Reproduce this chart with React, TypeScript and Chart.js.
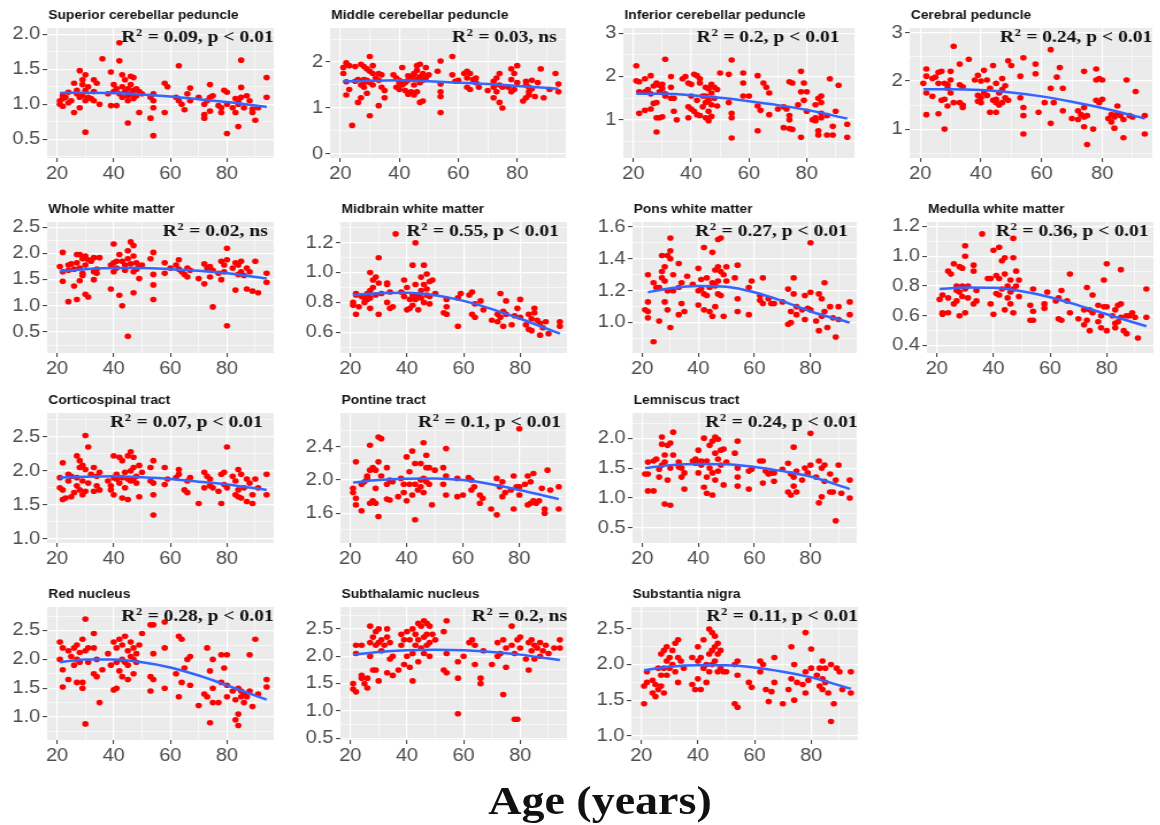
import React, { useEffect, useRef } from "react";
import { Chart, registerables } from "chart.js";
Chart.register(...registerables);

type Pt = [number, number];

// ---------------- data (age, value) ----------------
const superiorCerebellar: Pt[] = [[21,1.05],[21,1.0],[22,1.08],[22,0.97],[22,1.12],[23,1.1],[24,1.17],[24,1.02],[25,1.05],[26,1.3],[26,0.88],[27,1.2],[27,1.15],[28,1.48],[28,1.1],[28,0.95],[29,1.28],[29,1.12],[29,1.35],[30,1.42],[30,1.2],[30,0.6],[30,1.05],[31,1.25],[31,1.1],[32,1.08],[33,1.35],[33,1.18],[33,1.05],[34,1.3],[35,1.0],[36,1.65],[38,1.15],[39,1.46],[39,0.98],[40,1.28],[40,1.18],[41,1.22],[41,0.98],[42,1.88],[42,1.62],[42,1.15],[43,1.42],[43,1.25],[43,1.1],[44,1.35],[44,1.18],[45,1.22],[45,1.12],[45,0.73],[45,1.05],[46,1.4],[46,1.28],[46,1.15],[47,1.38],[47,1.2],[47,1.08],[48,1.22],[48,1.12],[49,1.18],[49,0.88],[50,1.15],[53,0.8],[53,1.1],[54,0.55],[54,0.95],[54,1.05],[54,1.15],[58,1.3],[58,0.88],[59,1.25],[62,1.1],[63,1.55],[63,1.05],[64,1.0],[65,0.92],[66,1.15],[67,1.23],[67,1.05],[70,1.1],[72,0.8],[72,0.85],[72,1.0],[73,1.05],[74,1.1],[74,1.28],[74,0.9],[75,1.12],[77,0.98],[78,0.95],[78,0.88],[79,1.2],[80,1.17],[80,0.58],[80,1.0],[82,0.95],[83,0.88],[83,1.08],[84,1.0],[84,1.05],[84,0.68],[85,1.63],[85,1.24],[85,1.1],[86,0.95],[87,1.12],[88,1.05],[89,0.88],[89,0.93],[90,0.77],[91,0.95],[94,1.38],[94,1.1]];
const middleCerebellar: Pt[] = [[21,1.88],[21,1.75],[22,1.98],[22,1.57],[22,1.28],[23,1.4],[23,1.92],[24,0.62],[25,1.9],[25,1.58],[26,1.12],[26,1.62],[27,1.95],[27,1.5],[27,1.22],[28,1.9],[28,1.55],[28,1.62],[28,1.45],[29,1.85],[29,1.6],[29,1.32],[30,2.12],[30,1.8],[30,0.83],[30,1.55],[31,1.92],[31,1.75],[31,1.5],[32,1.65],[33,1.05],[33,1.75],[33,1.6],[34,1.72],[34,1.45],[35,1.22],[35,1.38],[38,1.72],[39,1.65],[39,1.45],[40,1.55],[40,1.6],[40,1.4],[41,1.88],[41,1.5],[42,1.55],[42,1.38],[43,1.7],[43,1.6],[43,1.3],[44,1.65],[44,1.35],[45,1.75],[45,1.5],[45,1.72],[45,1.28],[46,1.82],[46,1.62],[46,1.92],[46,1.35],[47,1.95],[47,1.68],[47,1.12],[47,1.55],[48,1.75],[48,1.6],[48,1.15],[49,1.88],[49,1.65],[50,1.72],[53,1.8],[54,2.02],[54,1.52],[54,1.35],[54,0.9],[54,1.25],[58,2.12],[58,1.72],[59,1.58],[60,1.6],[62,1.75],[63,1.45],[63,1.8],[63,1.65],[64,1.75],[64,1.4],[65,1.62],[66,1.65],[66,1.55],[67,1.45],[70,1.38],[72,1.58],[72,1.45],[72,1.22],[73,1.65],[73,1.35],[74,1.75],[74,1.5],[74,1.12],[75,1.0],[75,1.45],[77,1.45],[78,1.85],[78,1.62],[78,1.35],[79,1.75],[79,1.4],[80,1.92],[80,1.55],[82,1.15],[83,1.5],[83,1.22],[83,1.58],[84,1.35],[84,1.45],[84,1.28],[85,1.6],[85,1.42],[86,1.25],[87,1.55],[88,1.85],[89,1.22],[91,1.4],[93,1.75],[94,1.52],[94,1.35]];
const inferiorCerebellar: Pt[] = [[21,2.25],[21,1.9],[22,1.65],[22,1.15],[22,1.88],[24,1.95],[24,1.65],[24,1.22],[25,1.7],[26,2.02],[26,1.25],[26,1.6],[27,1.78],[27,1.38],[28,1.85],[28,0.72],[28,1.05],[28,1.4],[29,1.8],[29,1.65],[29,1.05],[30,1.72],[30,1.82],[30,1.07],[31,2.4],[31,1.55],[31,1.6],[33,2.0],[33,1.5],[33,1.75],[34,1.2],[34,1.5],[35,1.0],[37,1.95],[38,2.0],[39,1.85],[39,1.3],[39,1.05],[40,1.82],[40,1.55],[40,1.25],[41,2.05],[41,1.2],[42,2.02],[42,1.45],[42,1.12],[43,1.95],[43,1.85],[43,1.1],[44,1.55],[44,1.3],[45,1.75],[45,1.4],[45,1.05],[45,1.55],[46,1.72],[46,1.45],[46,1.2],[46,0.98],[47,1.82],[47,1.62],[47,1.35],[47,1.08],[48,1.75],[48,1.5],[49,1.7],[49,1.32],[50,2.08],[53,2.05],[53,1.4],[54,2.38],[54,1.15],[54,1.05],[54,0.58],[58,2.08],[58,1.85],[58,1.55],[60,1.55],[63,2.02],[63,1.32],[63,0.75],[64,1.22],[65,1.85],[66,1.75],[67,1.62],[67,1.12],[70,1.25],[72,1.3],[72,0.82],[73,1.25],[74,1.88],[74,1.1],[74,1.0],[74,0.8],[75,1.85],[75,0.78],[77,1.35],[78,2.12],[78,1.65],[78,0.6],[79,1.85],[79,1.45],[80,1.65],[80,1.2],[82,1.0],[83,1.35],[83,1.05],[83,0.98],[84,1.5],[84,0.75],[84,0.65],[85,1.55],[85,1.4],[85,1.05],[85,1.15],[87,1.1],[87,0.65],[88,1.95],[89,0.85],[89,0.65],[90,1.2],[91,1.8],[94,0.9],[94,0.6]];
const cerebralPeduncle: Pt[] = [[21,1.95],[22,2.25],[22,2.1],[22,1.75],[22,1.3],[24,2.05],[24,1.68],[25,2.08],[26,2.18],[26,1.95],[26,1.32],[27,2.2],[27,1.6],[28,1.95],[28,1.62],[28,1.0],[29,1.85],[29,1.92],[29,1.48],[30,2.2],[30,2.02],[30,1.75],[31,2.72],[31,1.55],[33,2.35],[33,1.92],[33,1.55],[34,1.88],[34,1.5],[34,1.45],[36,2.45],[38,2.02],[39,2.12],[39,1.7],[39,1.58],[40,2.0],[40,1.65],[40,1.55],[41,2.22],[41,1.75],[42,2.02],[42,1.7],[43,1.85],[43,1.35],[44,2.32],[44,1.6],[45,1.95],[45,1.55],[45,1.35],[45,1.62],[46,1.75],[46,1.5],[47,2.05],[47,1.82],[47,1.55],[48,1.9],[48,1.65],[49,2.42],[49,1.6],[50,2.32],[53,2.1],[53,1.65],[54,2.48],[54,1.45],[54,1.28],[54,0.9],[58,2.35],[58,2.15],[59,1.35],[61,1.55],[63,2.65],[63,1.85],[63,1.12],[64,1.55],[65,2.08],[66,2.28],[67,1.85],[67,1.38],[70,1.22],[72,1.38],[72,1.2],[73,1.3],[74,2.2],[74,1.45],[74,1.25],[74,1.05],[75,1.28],[75,0.68],[77,1.0],[78,2.25],[78,2.02],[78,1.6],[79,2.05],[79,1.55],[80,2.02],[80,1.62],[82,1.22],[83,1.15],[83,1.3],[84,1.25],[84,1.02],[85,1.48],[85,1.32],[86,1.28],[87,0.82],[87,1.2],[88,2.02],[89,1.28],[90,1.25],[91,1.78],[94,1.28],[94,0.9]];
const wholeWhiteMatter: Pt[] = [[21,1.75],[22,2.02],[22,1.47],[22,1.65],[24,1.08],[24,1.68],[24,1.78],[25,1.8],[26,1.38],[26,1.7],[27,1.98],[27,1.12],[27,1.82],[28,1.98],[28,1.72],[28,1.48],[29,1.9],[29,1.58],[29,1.62],[30,1.95],[30,1.78],[30,1.22],[31,1.88],[31,1.17],[32,1.85],[33,1.92],[33,1.5],[33,1.65],[34,1.7],[34,1.62],[35,1.92],[39,1.78],[39,1.32],[40,2.18],[40,1.82],[40,1.65],[41,1.85],[41,1.72],[42,1.98],[42,1.2],[43,1.85],[43,1.0],[44,1.78],[44,1.68],[45,2.05],[45,1.9],[45,0.42],[46,2.22],[46,1.8],[47,2.15],[47,1.95],[47,1.65],[47,1.25],[48,1.82],[48,1.7],[49,1.75],[49,1.52],[50,1.78],[53,1.9],[54,2.02],[54,1.6],[54,1.4],[54,1.12],[58,1.82],[58,1.62],[60,1.72],[62,1.78],[63,1.88],[63,1.7],[64,1.65],[65,1.6],[66,1.72],[66,1.55],[67,1.68],[70,1.52],[72,1.8],[72,1.42],[73,1.72],[74,1.75],[74,1.55],[75,0.98],[75,1.68],[77,1.62],[78,1.85],[78,1.5],[79,1.78],[79,1.65],[80,2.1],[80,0.62],[80,1.88],[82,1.72],[83,1.82],[83,1.3],[84,1.78],[84,1.6],[85,1.85],[85,1.65],[86,1.58],[87,1.72],[87,1.32],[88,1.65],[89,1.28],[90,1.85],[91,1.25],[94,1.62],[94,1.45]];
const midbrainWhiteMatter: Pt[] = [[21,0.8],[21,0.78],[22,0.72],[22,0.85],[22,0.86],[23,0.77],[24,0.84],[25,0.8],[25,0.83],[26,0.82],[26,0.86],[27,1.0],[27,0.76],[27,0.88],[27,0.83],[28,0.9],[28,0.95],[29,0.97],[29,0.85],[30,1.1],[30,0.93],[30,0.72],[31,0.86],[33,0.93],[33,0.8],[33,0.92],[34,0.76],[34,0.87],[35,0.77],[36,1.26],[38,0.87],[39,0.95],[39,0.84],[40,0.9],[40,0.75],[41,0.82],[41,0.76],[42,1.05],[42,0.85],[42,0.78],[43,1.2],[43,0.92],[43,0.82],[44,0.85],[44,0.75],[45,0.97],[45,0.83],[45,0.88],[46,1.05],[46,0.92],[46,0.8],[47,0.99],[47,0.89],[47,0.85],[48,0.94],[48,0.84],[48,0.79],[49,0.95],[50,0.86],[53,0.73],[54,0.82],[54,0.77],[54,0.72],[58,0.64],[58,0.83],[59,0.86],[62,0.85],[63,0.87],[63,0.72],[64,0.79],[64,0.7],[66,0.81],[67,0.75],[70,0.68],[72,0.67],[72,0.72],[73,0.86],[73,0.7],[74,0.74],[74,0.64],[75,0.72],[75,0.81],[77,0.65],[78,0.71],[79,0.76],[80,0.82],[80,0.7],[82,0.65],[83,0.72],[83,0.62],[84,0.69],[84,0.61],[85,0.76],[85,0.73],[86,0.68],[87,0.58],[87,0.66],[88,0.63],[89,0.67],[90,0.59],[94,0.67],[94,0.64]];
const ponsWhiteMatter: Pt[] = [[21,1.08],[22,1.3],[22,1.13],[22,1.07],[22,1.03],[24,0.88],[24,1.25],[25,1.22],[26,1.01],[26,1.22],[27,1.32],[27,1.42],[27,1.28],[28,1.35],[28,1.13],[28,1.26],[29,1.42],[29,1.2],[29,1.08],[30,1.53],[30,1.45],[30,1.4],[30,0.97],[31,1.3],[31,1.2],[33,1.37],[33,1.22],[33,1.05],[34,1.25],[34,1.12],[35,1.07],[36,1.29],[38,1.24],[40,1.34],[40,1.2],[40,1.11],[41,1.27],[41,1.21],[42,1.47],[42,1.18],[42,1.08],[43,1.28],[43,1.17],[44,1.22],[44,1.07],[45,1.44],[45,1.25],[45,1.04],[46,1.33],[46,1.23],[46,1.1],[47,1.52],[47,1.35],[47,1.26],[47,1.18],[48,1.53],[48,1.32],[48,1.17],[49,1.3],[49,1.04],[50,1.35],[50,1.26],[53,1.28],[54,1.36],[54,1.15],[54,1.07],[58,1.05],[58,1.22],[59,1.26],[62,1.17],[62,1.14],[63,1.28],[63,1.12],[65,1.15],[66,1.12],[67,1.12],[70,1.13],[72,1.21],[72,0.99],[73,1.07],[73,1.0],[74,1.28],[74,1.18],[75,1.1],[75,1.05],[77,1.08],[78,1.17],[78,1.02],[79,1.09],[80,1.5],[80,1.19],[80,1.08],[82,1.01],[83,1.18],[83,0.95],[84,1.15],[84,1.04],[85,1.25],[85,1.07],[86,0.97],[87,1.1],[88,1.03],[89,0.91],[90,1.1],[90,1.02],[94,1.13],[94,1.05]];
const medullaWhiteMatter: Pt[] = [[21,0.71],[22,0.74],[22,0.62],[22,0.61],[24,0.9],[24,0.72],[24,0.62],[25,0.88],[26,0.95],[26,0.68],[27,0.8],[27,0.77],[27,0.7],[28,0.93],[28,0.76],[28,0.6],[29,0.92],[29,0.8],[29,0.73],[30,1.07],[30,1.0],[30,0.78],[30,0.62],[31,0.8],[31,0.72],[33,0.94],[33,0.9],[33,0.68],[34,0.7],[34,0.77],[36,1.15],[38,0.85],[39,0.68],[39,0.85],[40,1.04],[40,0.61],[41,0.87],[41,0.75],[42,1.06],[42,0.85],[42,0.74],[43,0.97],[43,0.78],[44,0.99],[44,0.88],[44,0.64],[45,0.8],[45,0.72],[46,0.84],[46,0.76],[46,0.68],[47,1.12],[47,0.99],[47,0.78],[47,0.62],[48,0.9],[48,0.8],[49,0.84],[49,0.73],[53,0.67],[53,0.57],[54,0.78],[54,0.63],[54,0.57],[58,0.68],[58,0.65],[59,0.76],[62,0.7],[63,0.72],[63,0.58],[64,0.77],[64,0.57],[66,0.7],[67,0.88],[67,0.62],[70,0.58],[72,0.64],[72,0.54],[73,0.79],[73,0.57],[74,0.64],[74,0.5],[75,0.74],[75,0.62],[77,0.67],[77,0.56],[78,0.52],[78,0.6],[79,0.84],[79,0.66],[80,0.95],[80,0.66],[80,0.5],[82,0.6],[83,0.64],[83,0.55],[83,0.52],[84,0.67],[84,0.56],[85,0.91],[85,0.68],[85,0.59],[86,0.5],[87,0.48],[87,0.6],[88,0.6],[89,0.62],[90,0.59],[91,0.45],[94,0.78],[94,0.59]];
const corticospinalTract: Pt[] = [[21,1.9],[21,1.75],[22,2.12],[22,1.72],[22,1.58],[23,1.6],[24,1.95],[24,1.85],[25,1.62],[25,1.92],[26,1.68],[27,2.22],[27,1.9],[27,1.78],[28,2.15],[28,2.05],[28,1.72],[29,2.08],[29,1.85],[29,1.65],[30,2.52],[30,2.02],[30,1.7],[31,2.35],[31,1.82],[32,1.95],[33,2.05],[33,1.7],[34,1.92],[34,1.78],[35,1.98],[35,1.72],[38,1.85],[39,1.72],[39,1.78],[40,2.22],[40,1.9],[40,1.65],[41,1.95],[41,1.88],[42,2.2],[42,1.82],[43,2.15],[43,1.6],[43,1.9],[44,1.98],[44,1.75],[45,2.22],[45,1.88],[45,1.58],[46,2.28],[46,2.0],[46,1.85],[47,2.2],[47,2.05],[47,1.88],[48,1.92],[48,1.82],[49,2.08],[49,1.62],[50,1.98],[53,2.05],[53,1.85],[54,2.15],[54,1.82],[54,1.65],[54,1.35],[58,2.05],[58,1.8],[59,1.88],[62,1.9],[63,2.02],[63,1.95],[65,1.72],[66,1.68],[66,1.85],[67,1.9],[70,1.52],[72,1.98],[72,1.75],[73,1.92],[74,1.88],[74,1.78],[75,1.75],[77,1.7],[78,1.95],[78,1.52],[79,1.98],[79,1.8],[80,2.35],[80,1.75],[82,1.92],[83,1.65],[83,1.85],[84,2.02],[84,1.72],[84,1.62],[85,1.95],[85,1.6],[86,1.75],[87,1.88],[87,1.55],[88,1.82],[89,1.52],[89,1.65],[90,1.88],[91,1.75],[94,1.95],[94,1.65]];
const pontineTract: Pt[] = [[21,1.9],[21,1.85],[22,2.22],[22,1.78],[22,1.7],[24,1.95],[24,1.63],[25,1.98],[26,2.05],[26,2.02],[27,2.42],[27,2.12],[27,1.72],[28,2.15],[28,1.75],[29,2.12],[29,1.9],[29,1.72],[30,2.52],[30,2.22],[30,1.56],[31,2.5],[31,2.05],[33,2.15],[33,1.95],[33,1.77],[34,2.0],[34,1.76],[35,1.98],[37,1.8],[38,2.02],[39,1.95],[39,1.85],[40,2.28],[40,1.75],[41,2.1],[41,1.95],[42,2.35],[42,1.82],[43,2.2],[43,1.95],[43,1.52],[44,1.88],[45,2.2],[45,2.0],[45,1.92],[46,2.45],[46,2.02],[46,1.85],[47,2.3],[47,2.15],[47,1.98],[48,2.15],[48,1.95],[49,1.7],[50,2.12],[53,2.15],[53,1.95],[54,2.38],[54,2.05],[54,1.82],[58,2.02],[58,1.8],[60,1.82],[62,2.03],[63,2.0],[63,1.88],[64,1.92],[66,1.82],[66,1.72],[67,1.78],[70,1.65],[72,2.02],[72,1.58],[73,1.92],[74,1.98],[74,1.8],[75,1.85],[77,1.88],[78,2.05],[78,1.65],[79,1.92],[80,2.62],[80,1.92],[80,1.82],[82,1.95],[83,2.05],[83,1.7],[84,1.98],[84,1.72],[85,2.08],[85,1.75],[86,1.72],[87,1.75],[88,1.9],[89,1.65],[89,1.6],[90,2.12],[91,1.88],[94,1.92],[94,1.65]];
const lemniscusTract: Pt[] = [[21,1.4],[22,1.4],[22,1.12],[22,1.6],[24,1.62],[24,1.12],[25,1.65],[26,1.48],[26,1.35],[27,2.02],[27,1.9],[27,1.55],[28,1.72],[28,0.9],[28,1.6],[29,1.88],[29,1.3],[30,1.92],[30,0.88],[30,1.5],[31,2.1],[31,1.72],[33,1.6],[33,1.52],[34,1.5],[34,1.35],[35,1.15],[35,1.42],[38,1.62],[39,1.65],[39,1.58],[40,1.8],[40,1.42],[41,1.62],[41,1.55],[42,2.0],[42,1.18],[43,1.62],[43,1.35],[43,1.08],[44,1.88],[44,1.5],[45,1.95],[45,1.42],[45,1.05],[46,2.02],[46,1.75],[46,1.3],[47,1.98],[47,1.65],[47,1.45],[48,1.8],[48,1.55],[49,1.82],[49,1.22],[50,1.6],[53,1.75],[54,1.95],[54,1.5],[54,1.35],[54,1.2],[58,1.45],[58,1.15],[59,1.48],[62,1.62],[63,1.62],[63,1.25],[64,1.45],[65,1.4],[66,1.42],[67,1.42],[67,1.28],[70,1.48],[72,1.58],[72,1.1],[73,1.05],[73,1.4],[74,1.85],[74,1.35],[74,1.2],[75,1.45],[75,1.1],[77,1.3],[78,1.5],[79,1.42],[80,2.08],[80,1.55],[82,1.35],[83,1.62],[83,0.92],[84,1.5],[84,1.02],[85,1.55],[85,1.28],[87,1.4],[87,1.1],[88,1.1],[89,0.62],[89,1.3],[90,1.55],[91,1.08],[94,1.3],[94,1.0]];
const redNucleus: Pt[] = [[21,2.0],[21,2.3],[22,1.82],[22,1.52],[22,2.2],[24,2.15],[24,1.65],[25,2.05],[26,2.2],[26,1.9],[27,2.25],[27,2.0],[27,1.6],[28,2.12],[28,1.95],[29,2.35],[29,1.6],[29,1.5],[30,2.7],[30,2.15],[30,0.88],[31,2.2],[31,1.95],[33,2.45],[33,2.2],[33,1.75],[34,2.0],[34,1.7],[35,1.25],[36,1.82],[38,2.1],[39,1.9],[40,2.3],[40,1.47],[41,2.2],[41,1.5],[41,1.95],[42,2.35],[42,1.8],[43,2.25],[43,2.0],[43,1.7],[44,2.4],[44,1.95],[45,2.15],[45,1.65],[45,1.9],[46,2.3],[46,2.05],[47,2.2],[47,1.75],[47,2.0],[48,2.1],[48,1.95],[49,2.25],[50,2.45],[53,2.6],[53,1.7],[53,1.45],[54,2.6],[54,2.1],[54,1.65],[58,2.65],[58,2.2],[58,1.5],[62,1.75],[63,2.4],[63,1.35],[64,2.35],[64,1.6],[65,1.85],[66,2.0],[67,2.05],[67,1.55],[70,1.2],[72,1.4],[73,2.2],[73,1.35],[74,1.8],[74,0.9],[75,2.0],[75,1.5],[75,1.25],[77,1.25],[78,2.08],[78,1.6],[79,1.85],[80,2.08],[80,1.35],[80,1.55],[82,1.45],[83,0.95],[83,1.3],[84,1.5],[84,1.05],[84,0.85],[85,1.45],[85,1.35],[86,1.4],[86,1.25],[87,1.35],[88,2.08],[88,1.45],[89,1.18],[90,2.35],[91,1.4],[94,1.65],[94,1.52]];
const subthalamicNucleus: Pt[] = [[21,1.5],[21,1.4],[22,2.05],[22,1.35],[22,2.2],[24,1.6],[24,1.65],[24,2.2],[25,1.5],[26,1.6],[26,1.42],[27,2.55],[27,2.25],[27,2.0],[28,2.35],[28,1.75],[29,2.45],[29,2.2],[29,1.75],[30,2.5],[30,2.25],[30,1.55],[31,2.3],[31,2.1],[32,2.2],[33,2.5],[33,2.35],[33,1.7],[34,2.25],[34,1.95],[35,2.0],[35,1.65],[37,1.75],[38,2.4],[38,2.2],[39,2.3],[39,1.85],[40,2.45],[40,2.0],[41,2.3],[41,1.8],[42,2.5],[42,2.05],[42,1.55],[43,2.4],[43,2.2],[44,2.6],[44,2.3],[44,1.9],[45,2.55],[45,2.15],[46,2.65],[46,2.35],[46,2.05],[47,2.6],[47,2.4],[47,2.2],[48,2.55],[48,2.25],[48,2.0],[49,2.4],[50,2.3],[53,2.45],[53,1.75],[54,2.65],[54,2.05],[54,1.7],[58,1.9],[58,0.95],[58,1.6],[60,2.0],[62,2.25],[63,2.3],[64,2.2],[64,1.85],[66,1.6],[66,1.5],[67,2.1],[70,1.85],[72,2.25],[72,2.0],[73,2.05],[74,2.3],[74,1.3],[75,2.15],[75,1.8],[77,2.55],[77,2.2],[78,0.85],[78,2.05],[79,0.85],[79,2.3],[80,2.35],[80,2.15],[82,1.95],[83,2.25],[83,1.75],[84,2.3],[84,2.1],[85,2.2],[85,1.95],[86,2.15],[87,2.25],[87,2.0],[88,2.1],[89,2.2],[90,2.05],[92,2.15],[94,2.3],[94,2.15]];
const substantiaNigra: Pt[] = [[21,1.45],[21,1.7],[22,1.9],[22,1.75],[24,1.78],[24,1.6],[25,1.55],[25,1.72],[26,1.65],[26,1.95],[27,2.15],[27,1.85],[27,1.7],[28,2.2],[28,1.95],[28,1.6],[29,2.25],[29,2.05],[29,1.85],[30,2.1],[30,1.95],[31,2.2],[31,2.0],[32,2.3],[32,1.9],[33,2.35],[33,2.1],[33,1.75],[34,2.05],[35,1.95],[38,2.1],[38,1.72],[39,1.65],[40,2.25],[40,2.05],[40,1.8],[41,2.1],[41,1.65],[42,2.35],[42,1.95],[43,2.0],[43,1.75],[44,2.5],[44,2.15],[44,1.9],[45,2.45],[45,2.2],[45,2.0],[46,2.4],[46,2.25],[46,2.05],[47,2.3],[47,2.15],[47,1.9],[48,2.2],[48,1.95],[49,1.9],[50,1.9],[53,2.0],[53,1.45],[54,2.05],[54,1.85],[54,1.4],[58,1.75],[59,1.68],[62,2.05],[62,1.9],[63,2.0],[64,1.65],[65,1.48],[66,1.62],[67,2.1],[67,1.75],[70,1.45],[72,1.65],[73,2.25],[73,1.8],[74,2.0],[74,1.5],[75,1.75],[77,1.72],[78,2.45],[78,1.9],[78,1.6],[79,1.78],[80,2.22],[80,1.95],[82,1.85],[83,1.95],[83,1.7],[84,2.05],[84,1.8],[84,1.65],[85,1.95],[85,1.75],[86,1.6],[87,1.2],[87,2.0],[88,1.45],[89,1.95],[90,1.9],[91,1.65],[94,1.9],[94,1.6]];

// fitted (smooth) curves
const superiorFit: Pt[] = [[21,1.16],[30,1.165],[40,1.16],[50,1.14],[60,1.11],[70,1.07],[80,1.03],[94,0.96]];
const middleFit: Pt[] = [[21,1.58],[30,1.59],[40,1.6],[50,1.58],[60,1.55],[70,1.52],[80,1.48],[94,1.42]];
const inferiorFit: Pt[] = [[21,1.6],[30,1.6],[40,1.57],[50,1.51],[60,1.43],[70,1.34],[80,1.23],[94,1.03]];
const cerebralFit: Pt[] = [[21,1.83],[30,1.83],[40,1.81],[50,1.76],[60,1.68],[70,1.57],[80,1.44],[94,1.22]];
const wholeFit: Pt[] = [[21,1.66],[30,1.7],[40,1.72],[50,1.72],[60,1.7],[70,1.67],[80,1.62],[94,1.52]];
const midbrainFit: Pt[] = [[21,0.85],[30,0.862],[40,0.865],[50,0.848],[60,0.81],[70,0.755],[80,0.69],[94,0.59]];
const ponsFit: Pt[] = [[22,1.19],[30,1.215],[40,1.23],[50,1.225],[60,1.19],[70,1.135],[80,1.07],[94,1.0]];
const medullaFit: Pt[] = [[21,0.78],[30,0.79],[40,0.788],[50,0.765],[60,0.725],[70,0.67],[80,0.61],[94,0.53]];
const corticospinalFit: Pt[] = [[21,1.9],[30,1.915],[40,1.92],[50,1.905],[60,1.88],[70,1.84],[80,1.8],[94,1.72]];
const pontineFit: Pt[] = [[21,1.97],[30,2.0],[40,2.015],[50,2.02],[60,2.0],[70,1.95],[80,1.88],[94,1.77]];
const lemniscusFit: Pt[] = [[21,1.5],[30,1.55],[40,1.57],[50,1.565],[60,1.52],[70,1.45],[80,1.36],[94,1.15]];
const redFit: Pt[] = [[21,1.95],[30,2.0],[40,2.0],[50,1.95],[60,1.86],[70,1.72],[80,1.55],[94,1.3]];
const subthalamicFit: Pt[] = [[21,2.03],[30,2.08],[40,2.11],[50,2.12],[60,2.11],[70,2.08],[80,2.03],[94,1.93]];
const nigraFit: Pt[] = [[21,1.92],[30,1.97],[40,1.99],[50,1.99],[60,1.96],[70,1.9],[80,1.82],[94,1.66]];

// tick labels
const ageTicks = [20, 40, 60, 80];
const ticksHalf05 = [0.5, 1.0, 1.5, 2.0];
const ticksInt012 = [0, 1, 2];
const ticksInt123 = [1, 2, 3];
const ticksHalf0525 = [0.5, 1.0, 1.5, 2.0, 2.5];
const ticksMidbrain = [0.6, 0.8, 1.0, 1.2];
const ticksPons = [1.0, 1.2, 1.4, 1.6];
const ticksMedulla = [0.4, 0.6, 0.8, 1.0, 1.2];
const ticksHalf1025 = [1.0, 1.5, 2.0, 2.5];
const ticksPontine = [1.6, 2.0, 2.4];

// ---------------- layout / styling ----------------
const SX = 1.15; // horizontal stretch of the original figure
const Y_W = 42;
const TOP_PAD = 30;
const X_H = 28;
const R_PAD = 8;
const AGE_MIN = 16.5;
const AGE_MAX = 96.5;

interface Spec {
  title: string;
  stat: string;
  points: Pt[];
  fit: Pt[];
  yTicks: number[];
  dec: number;
  yMin: number;
  yMax: number;
  box: [number, number, number, number];
  statShift: number;
}

const panels: Spec[] = [
  { title: "Superior cerebellar peduncle", stat: "R² = 0.09, p < 0.01", points: superiorCerebellar, fit: superiorFit, yTicks: ticksHalf05, dec: 1, yMin: 0.23, yMax: 2.09, box: [47, 28, 273, 158], statShift: 0 },
  { title: "Middle cerebellar peduncle", stat: "R² = 0.03, ns", points: middleCerebellar, fit: middleFit, yTicks: ticksInt012, dec: 0, yMin: -0.09, yMax: 2.74, box: [330, 28, 566, 158], statShift: -9 },
  { title: "Inferior cerebellar peduncle", stat: "R² = 0.2, p < 0.01", points: inferiorCerebellar, fit: inferiorFit, yTicks: ticksInt123, dec: 0, yMin: 0.12, yMax: 3.12, box: [623, 28, 854, 158], statShift: -15 },
  { title: "Cerebral peduncle", stat: "R² = 0.24, p < 0.01", points: cerebralPeduncle, fit: cerebralFit, yTicks: ticksInt123, dec: 0, yMin: 0.4, yMax: 3.1, box: [910, 28, 1153, 158], statShift: 0 },
  { title: "Whole white matter", stat: "R² = 0.02, ns", points: wholeWhiteMatter, fit: wholeFit, yTicks: ticksHalf0525, dec: 1, yMin: 0.1, yMax: 2.6, box: [47, 222, 273, 353], statShift: -6 },
  { title: "Midbrain white matter", stat: "R² = 0.55, p < 0.01", points: midbrainWhiteMatter, fit: midbrainFit, yTicks: ticksMidbrain, dec: 1, yMin: 0.46, yMax: 1.34, box: [340, 222, 566, 353], statShift: -8 },
  { title: "Pons white matter", stat: "R² = 0.27, p < 0.01", points: ponsWhiteMatter, fit: ponsFit, yTicks: ticksPons, dec: 1, yMin: 0.81, yMax: 1.63, box: [633, 222, 857, 353], statShift: -9 },
  { title: "Medulla white matter", stat: "R² = 0.36, p < 0.01", points: medullaWhiteMatter, fit: medullaFit, yTicks: ticksMedulla, dec: 1, yMin: 0.35, yMax: 1.23, box: [927, 222, 1153, 353], statShift: -5 },
  { title: "Corticospinal tract", stat: "R² = 0.07, p < 0.01", points: corticospinalTract, fit: corticospinalFit, yTicks: ticksHalf1025, dec: 1, yMin: 0.94, yMax: 2.85, box: [47, 413, 273, 543], statShift: -11 },
  { title: "Pontine tract", stat: "R² = 0.1, p < 0.01", points: pontineTract, fit: pontineFit, yTicks: ticksPontine, dec: 1, yMin: 1.24, yMax: 2.81, box: [340, 413, 565, 543], statShift: -5 },
  { title: "Lemniscus tract", stat: "R² = 0.24, p < 0.01", points: lemniscusTract, fit: lemniscusFit, yTicks: ticksHalf05, dec: 1, yMin: 0.25, yMax: 2.42, box: [633, 413, 857, 543], statShift: 1 },
  { title: "Red nucleus", stat: "R² = 0.28, p < 0.01", points: redNucleus, fit: redFit, yTicks: ticksHalf1025, dec: 1, yMin: 0.6, yMax: 2.91, box: [47, 607, 273, 740], statShift: 0 },
  { title: "Subthalamic nucleus", stat: "R² = 0.2, ns", points: subthalamicNucleus, fit: subthalamicFit, yTicks: ticksHalf0525, dec: 1, yMin: 0.47, yMax: 2.9, box: [340, 607, 566, 740], statShift: 0 },
  { title: "Substantia nigra", stat: "R² = 0.11, p < 0.01", points: substantiaNigra, fit: nigraFit, yTicks: ticksHalf1025, dec: 1, yMin: 0.94, yMax: 2.81, box: [631, 607, 857, 740], statShift: 0 },
];

function minorBreaks(major: number[], min: number, max: number): number[] {
  const step = major[1] - major[0];
  const out: number[] = [];
  for (let i = -1; i < major.length; i++) {
    const v = major[0] + step * (i + 0.5);
    if (v > min && v < max) out.push(v);
  }
  return out;
}

const isIn = (arr: number[]) => (v: number) => arr.some((m) => Math.abs(m - v) < 1e-9);

function Panel({ spec }: { spec: Spec }) {
  const ref = useRef<HTMLCanvasElement>(null);
  const [l, t, r, b] = spec.box;
  const cw = Math.round((r - l) / SX + Y_W + R_PAD);
  const ch = Math.round(b - t + TOP_PAD + X_H);
  const left = l / SX - Y_W;
  const top = t - TOP_PAD;

  useEffect(() => {
    const canvas = ref.current;
    if (!canvas) return;
    const xMajor = isIn(ageTicks);
    const yMajor = isIn(spec.yTicks);
    const xAll = [...ageTicks, ...minorBreaks(ageTicks, AGE_MIN, AGE_MAX)].sort((a, c) => a - c);
    const yAll = [...spec.yTicks, ...minorBreaks(spec.yTicks, spec.yMin, spec.yMax)].sort((a, c) => a - c);
    const tickFont = { family: '"Liberation Sans", Arial, sans-serif', size: 17.5 };

    const deco = {
      id: "deco",
      beforeDraw(chart: any) {
        const { ctx, chartArea: a } = chart;
        ctx.save();
        ctx.fillStyle = "#EBEBEB";
        ctx.fillRect(a.left, a.top, a.right - a.left, a.bottom - a.top);
        ctx.restore();
      },
      afterDraw(chart: any) {
        const { ctx, chartArea: a } = chart;
        ctx.save();
        ctx.fillStyle = "#111111";
        ctx.textAlign = "left";
        ctx.textBaseline = "alphabetic";
        ctx.font = 'bold 12px "Liberation Sans", Arial, sans-serif';
        ctx.fillText(spec.title, a.left + 1, a.top - 9);

        const parts = spec.stat.split("²");
        const main = 'bold 17px "Liberation Serif", "Times New Roman", serif';
        const sup = 'bold 11px "Liberation Serif", "Times New Roman", serif';
        ctx.font = main;
        const wR = ctx.measureText(parts[0]).width;
        const wRest = ctx.measureText(parts[1]).width;
        ctx.font = sup;
        const wS = ctx.measureText("2").width;
        const xr = a.right + spec.statShift / SX;
        let x = xr - (wR + wS + 1 + wRest);
        const yb = a.top + 14;
        ctx.fillStyle = "#111111";
        ctx.font = main;
        ctx.fillText(parts[0], x, yb);
        x += wR;
        ctx.font = sup;
        ctx.fillText("2", x + 0.5, yb - 6);
        x += wS + 1;
        ctx.font = main;
        ctx.fillText(parts[1], x, yb);
        ctx.restore();
      },
    };

    const chart = new Chart(canvas, {
      type: "scatter",
      data: {
        datasets: [
          {
            type: "line",
            data: spec.fit.map(([x, y]) => ({ x, y })),
            borderColor: "#3366FF",
            borderWidth: 2.5,
            pointRadius: 0,
            fill: false,
            cubicInterpolationMode: "monotone",
          } as any,
          {
            type: "scatter",
            data: spec.points.map(([x, y]) => ({ x, y })),
            pointRadius: 2.8,
            pointBackgroundColor: "#FF0000",
            pointBorderWidth: 0,
            pointBorderColor: "#FF0000",
          } as any,
        ],
      },
      options: {
        responsive: false,
        animation: false,
        events: [],
        layout: { padding: { top: TOP_PAD, right: R_PAD, left: 0, bottom: 0 } },
        plugins: { legend: { display: false }, tooltip: { enabled: false }, title: { display: false } },
        scales: {
          x: {
            type: "linear",
            min: AGE_MIN,
            max: AGE_MAX,
            afterBuildTicks: (s: any) => {
              s.ticks = xAll.map((v) => ({ value: v }));
            },
            afterFit: (s: any) => {
              s.height = X_H;
            },
            ticks: {
              autoSkip: false,
              maxRotation: 0,
              padding: 2,
              color: "#4D4D4D",
              font: tickFont,
              callback: (v: any) => (xMajor(Number(v)) ? String(v) : ""),
            },
            grid: {
              color: "#FFFFFF",
              lineWidth: (c: any) => (c.tick && xMajor(c.tick.value) ? 1.2 : 0.6),
              tickLength: 4,
              tickWidth: 1,
              tickColor: (c: any) => (c.tick && xMajor(c.tick.value) ? "#333333" : "rgba(0,0,0,0)"),
            },
            border: { display: false },
          },
          y: {
            type: "linear",
            position: "left",
            min: spec.yMin,
            max: spec.yMax,
            afterBuildTicks: (s: any) => {
              s.ticks = yAll.map((v) => ({ value: v }));
            },
            afterFit: (s: any) => {
              s.width = Y_W;
            },
            ticks: {
              autoSkip: false,
              padding: 2,
              color: "#4D4D4D",
              font: tickFont,
              callback: (v: any) => (yMajor(Number(v)) ? Number(v).toFixed(spec.dec) : ""),
            },
            grid: {
              color: "#FFFFFF",
              lineWidth: (c: any) => (c.tick && yMajor(c.tick.value) ? 1.2 : 0.6),
              tickLength: 4,
              tickWidth: 1,
              tickColor: (c: any) => (c.tick && yMajor(c.tick.value) ? "#333333" : "rgba(0,0,0,0)"),
            },
            border: { display: false },
          },
        },
      } as any,
      plugins: [deco],
    });
    return () => chart.destroy();
  }, []);

  return (
    <canvas
      ref={ref}
      width={cw}
      height={ch}
      style={{ position: "absolute", left: `${left}px`, top: `${top}px`, width: `${cw}px`, height: `${ch}px` }}
    />
  );
}

export default function App() {
  return (
    <div style={{ position: "absolute", left: 0, top: 0, width: 1160, height: 825, background: "#FFFFFF", overflow: "hidden" }}>
      <div
        style={{
          position: "absolute",
          left: 0,
          top: 0,
          width: `${1160 / SX}px`,
          height: "825px",
          transform: `scaleX(${SX})`,
          transformOrigin: "0 0",
        }}
      >
        {panels.map((p) => (
          <Panel key={p.title} spec={p} />
        ))}
        <div
          style={{
            position: "absolute",
            left: `${600 / SX - 200}px`,
            top: "781px",
            width: "400px",
            textAlign: "center",
            font: 'bold 40px "Liberation Serif", "Times New Roman", serif',
            lineHeight: "40px",
            color: "#111111",
            whiteSpace: "nowrap",
          }}
        >
          Age (years)
        </div>
      </div>
    </div>
  );
}
